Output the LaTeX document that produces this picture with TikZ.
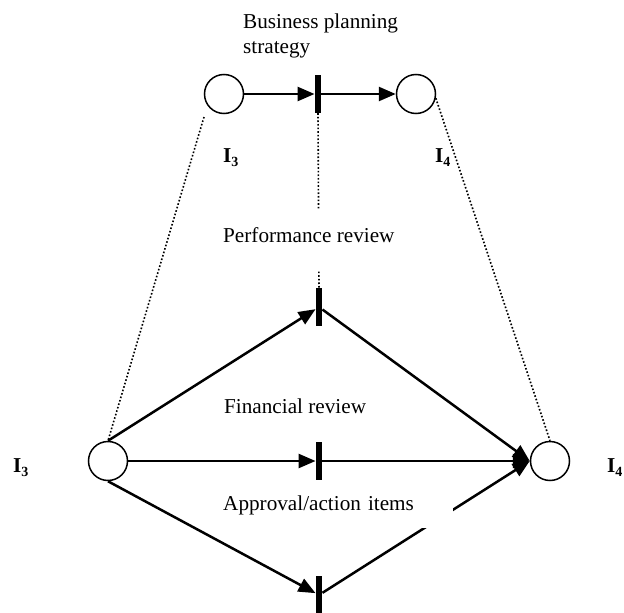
\documentclass[tikz,border=0pt]{standalone}
\usepackage{fontspec}
\setmainfont{Liberation Serif}
\usetikzlibrary{arrows.meta}
\newcommand{\plbl}[1]{\textbf{I}\raisebox{-0.22em}{\fontsize{14}{14}\selectfont\textbf{#1}}}
\begin{document}
\begin{tikzpicture}[x=1pt,y=-1pt,
  place/.style={circle,draw,line width=1.5pt,minimum size=39pt,inner sep=0pt},
  trans/.style={fill=black,draw=none,minimum width=6.5pt,minimum height=38pt,inner sep=0pt},
  arc/.style={line width=2.5pt,-{Triangle[length=17pt,width=14pt]}},
  dots/.style={line width=1.6pt,dotted},
  txt/.style={font=\fontsize{21.2}{25}\selectfont,inner sep=0pt},
]
\useasboundingbox (0,0) rectangle (624,613);

% places and transitions
\node[place] (p1) at (224,94) {};
\node[trans] (t1) at (318,94) {};
\node[place] (p2) at (416,94) {};
\node[place] (p3) at (108,461) {};
\node[trans] (t2) at (319,307) {};
\node[trans] (t3) at (319,461) {};
\node[trans] (t4) at (319,595) {};
\node[place] (p4) at (550,461) {};

% dotted refinement links
\coordinate (d1) at (204,117);
\draw[dots] (d1) -- (p3.north);
\draw[dots] (p2.-12) -- (p4.north);
\draw[dots] (t1.south) -- (t2.north);

% arcs
\draw[arc] (p1) -- (t1);
\draw[arc] (t1) -- (p2);
\draw[arc] (p3.north) -- (t2);
\draw[arc] (p3) -- (t3);
\draw[arc] (p3.south) -- (t4);
\draw[arc] (t2) -- (p4.west);
\draw[arc] (t3) -- (p4);
\draw[arc] (t4) -- (p4.west);

% texts
\node[txt,anchor=north west,align=left] (bps) at (243,13.7) {Business planning\\strategy};
\node[txt,fill=white,anchor=base west,text height=32pt,text depth=28pt] (pr) at (223,242) {Performance review};
\node[txt,anchor=base west] (fr) at (224,413) {Financial review};
\node[txt,fill=white,anchor=base west,text width=230pt,align=left,text height=28pt,text depth=18pt] (ap) at (223,510) {Approval/action items};

% labels
\node[txt,anchor=base west] (l1) at (223,162) {\plbl{3}};
\node[txt,anchor=base west] (l2) at (435,162) {\plbl{4}};
\node[txt,anchor=base west] (l3) at (13,472) {\plbl{3}};
\node[txt,anchor=base west] (l4) at (607,472) {\plbl{4}};
\end{tikzpicture}
\end{document}
